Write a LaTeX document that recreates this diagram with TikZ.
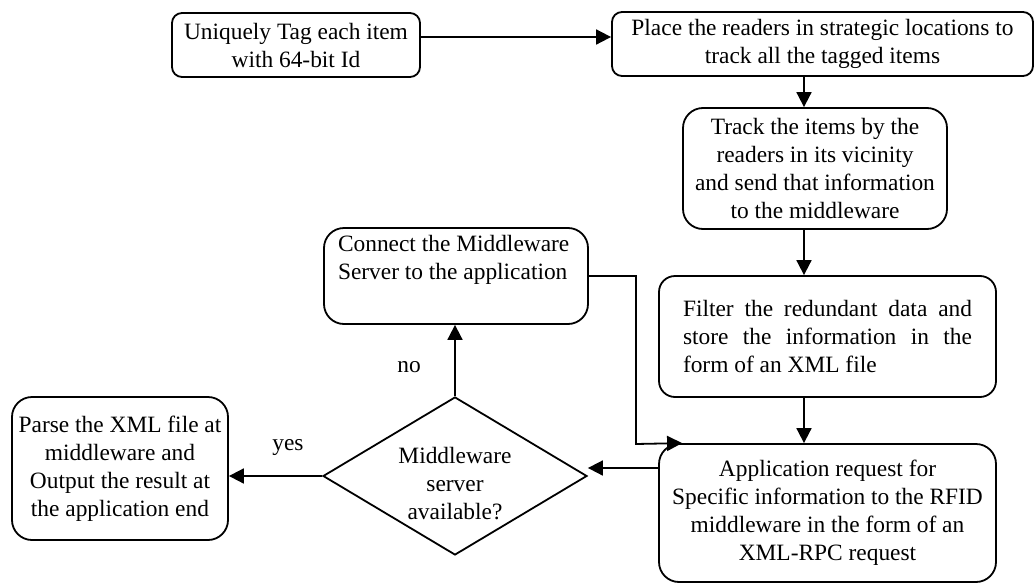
\documentclass[tikz,border=0pt]{standalone}
\usepackage{fontspec}
\setmainfont{Liberation Serif}
\usetikzlibrary{arrows.meta,shapes.geometric}

\tikzset{
  flowbox/.style={draw,rounded corners=#1,line width=0.9pt,align=center,inner sep=2pt},
  flowbox/.default=5pt,
  decide/.style={draw,diamond,aspect=1.67,line width=0.9pt,align=center,inner sep=0pt},
  arr/.style={line width=0.9pt,-{Triangle[length=7.5pt,width=7.5pt]}}
}

\begin{document}
\begin{tikzpicture}[x=0.5pt,y=-0.5pt,font=\fontsize{11.7}{14}\selectfont]
  \useasboundingbox (0,0) rectangle (1035,584);
  \node[flowbox,minimum width=124pt,minimum height=32pt] (tag) at (296,45) {Uniquely Tag each item\\with 64-bit Id};              % top row
  \node[flowbox,minimum width=210.5pt,minimum height=32pt] (place) at (822.5,44) {Place the readers in strategic locations to\\track all the tagged items};
  \node[flowbox=10pt,minimum width=132pt,minimum height=60.5pt] (track) at (815,168.5) {Track the items by the\\readers in its vicinity\\and send that information\\to the middleware};   % right column
  \node[flowbox=8pt,minimum width=168.5pt,minimum height=60.5pt,text width=144.5pt,inner xsep=12pt,align=justify] (filter) at (827.5,336.5) {Filter the redundant data and store the information in the form of an XML file};
  \node[flowbox=10pt,minimum width=168.5pt,minimum height=69pt] (request) at (827.5,513) {Application request for\\Specific information to the RFID\\middleware in the form of an\\XML-RPC request};
  \node[flowbox=10pt,minimum width=132pt,minimum height=48pt,text width=118pt,inner xsep=7pt,align=flush left] (connect) at (456,276) {Connect the Middleware\\Server to the application\\\strut};   % middle
  \node[decide,minimum width=132pt,minimum height=79pt] (decision) at (455,476) {\strut\\[-8pt]Middleware\\server\\available?};
  \node[flowbox=10pt,minimum width=108pt,minimum height=71.5pt] (parse) at (120,468.5) {Parse the XML file at\\middleware and\\Output the result at\\the application end};   % left
  \node (no) at (409,367) {no};
  \node (yes) at (288,448) {yes};
  \coordinate (col) at (804,0);
  \coordinate (jog) at (636,444);
  \draw[arr] ([yshift=4pt]tag.east) -- ([yshift=4pt]tag.east -| place.west);
  \draw[arr] (place.south -| col) -- (track.north -| col);
  \draw[arr] (track.south -| col) -- (filter.north -| col);
  \draw[arr] (filter.south -| col) -- (request.north -| col);
  \draw[arr] (connect.east) -| (jog) -- ([xshift=12pt]request.north west);
  \draw[arr] ([yshift=22.5pt]request.west) -- ([yshift=22.5pt]request.west -| decision.east);
  \draw[arr] (decision.north) -- (decision.north |- connect.south);
  \draw[arr] (decision.west) -- (decision.west -| parse.east);
\end{tikzpicture}
\end{document}
